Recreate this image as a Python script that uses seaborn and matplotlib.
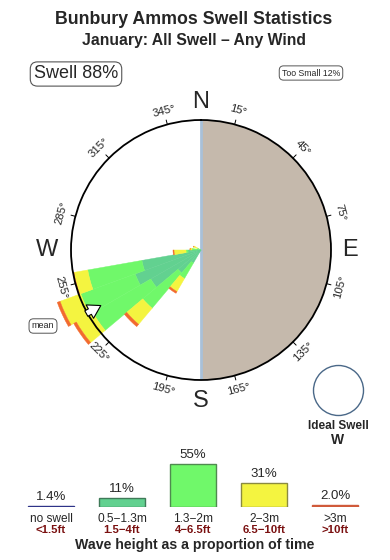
import numpy as np
import pandas as pd
import matplotlib
matplotlib.use("Agg")
import matplotlib.pyplot as plt
from matplotlib.patches import Ellipse
import seaborn as sns

sns.set_style("white")
plt.rcParams['font.family'] = ['Liberation Sans', 'DejaVu Sans']

# ---------------- data ----------------
# rose: direction bins (deg, swell coming from), segment lengths per wave class
directions = [215, 225, 235, 245, 255, 265, 275, 295]
seg_small = [1.5, 3.0, 5.8, 7.0, 6.0, 1.3, 0.4, 0.0]    # 0.5-1.3m
seg_medium = [1.8, 4.6, 6.7, 5.8, 5.5, 0.2, 0.5, 0.4]   # 1.3-2m
seg_large = [1.5, 2.1, 1.9, 2.2, 1.4, 1.2, 0.2, 0.4]    # 2-3m
seg_huge = [0.2, 0.3, 0.3, 0.3, 0.1, 0.1, 0.0, 0.0]     # >3m
circle_scale = 13.0

tick_degrees = [15, 45, 75, 105, 135, 165, 195, 225, 255, 285, 315, 345]
mean_direction = 241

# legend bars
classes = ["no swell", "0.5\u22121.3m", "1.3\u22122m", "2\u22123m", ">3m"]
class_feet = ["<1.5ft", "1.5\u22124ft", "4\u22126.5ft", "6.5\u221210ft", ">10ft"]
class_pct = [1.4, 11, 55, 31, 2.0]
class_pct_labels = ["1.4%", "11%", "55%", "31%", "2.0%"]

# ---------------- style ----------------
C_SMALL = "#62d190"
C_MED = "#70f86a"
C_LARGE = "#f4f440"
C_HUGE = "#f26a2e"
C_NONE = "#2e3388"
C_HUGE_LEG = "#d05a3a"
TAN = "#c5b9ac"
COAST = "#a8c0d8"
DARKRED = "#7a1010"

W, H = 390, 560
fig = plt.figure(figsize=(W / 100, H / 100), dpi=100)
fig.patch.set_facecolor("white")

def fx(px):
    return px / W

def fy(py):
    return 1 - py / H

# titles
fig.text(fx(194), fy(20), "Bunbury Ammos Swell Statistics", ha="center", va="center",
         fontsize=12.8, fontweight="bold")
fig.text(fx(194), fy(41), "January: All Swell \u2013 Any Wind", ha="center", va="center",
         fontsize=11.3, fontweight="bold")
fig.text(fx(76), fy(74), "Swell 88%", ha="center", va="center", fontsize=13,
         bbox=dict(boxstyle="round,pad=0.2,rounding_size=0.4", fc="white", ec="#555555", lw=0.8))
fig.text(fx(311), fy(73), "Too Small 12%", ha="center", va="center", fontsize=6.3,
         bbox=dict(boxstyle="round,pad=0.3,rounding_size=0.5", fc="white", ec="#555555", lw=0.7))

# ---------------- rose ----------------
cx, cy, rp = 201, 250, 130
ax = fig.add_axes([fx(cx - rp), fy(cy + rp), 2 * rp / W, 2 * rp / H], projection="polar")
ax.set_theta_zero_location("N")
ax.set_theta_direction(-1)
R = circle_scale
ax.set_ylim(0, R)
ax.set_xticks([])
ax.set_yticks([])
ax.grid(False)
ax.spines["polar"].set_color("black")
ax.spines["polar"].set_linewidth(1.3)
ax.spines["polar"].set_zorder(5)

# land (east half)
ax.bar(np.pi / 2, R, width=np.pi, bottom=0, color=TAN, edgecolor="none", zorder=1)
ax.plot([0, 0], [0, R], color=COAST, lw=2, zorder=2, solid_capstyle="butt")
ax.plot([np.pi, np.pi], [0, R], color=COAST, lw=2, zorder=2, solid_capstyle="butt")

theta = np.radians(directions)
wid = np.radians(10)
bottom = np.zeros(len(directions))
for seg, col in [(seg_small, C_SMALL), (seg_medium, C_MED), (seg_large, C_LARGE), (seg_huge, C_HUGE)]:
    seg = np.array(seg)
    ax.bar(theta, seg, width=wid, bottom=bottom, color=col, edgecolor=col, linewidth=0.3,
           zorder=3, clip_on=False)
    bottom = bottom + seg

# ticks and labels
for d in tick_degrees:
    t = np.radians(d)
    ax.plot([t, t], [R, R * 1.035], color="black", lw=0.7, clip_on=False, zorder=6)
    rot = (-d) % 180
    if rot > 90:
        rot -= 180
    ax.text(t, R * 1.11, f"{d}\u00b0", rotation=rot, rotation_mode="anchor",
            ha="center", va="center", fontsize=8.2, clip_on=False)

for lab, d, rr in [("N", 0, 1.14), ("E", 90, 1.15), ("S", 180, 1.16), ("W", 270, 1.185)]:
    ax.text(np.radians(d), R * rr, lab, ha="center", va="center", fontsize=17, clip_on=False)

# mean arrow
tm = np.radians(mean_direction)
ax.annotate("", xy=(tm, R * 0.86), xytext=(tm, R * 1.03),
            arrowprops=dict(arrowstyle="simple,head_length=0.9,head_width=1.1,tail_width=0.45",
                            fc="white", ec="black", lw=0.8), annotation_clip=False, zorder=7)
fig.text(fx(43), fy(326), "mean", ha="center", va="center", fontsize=6.5,
         bbox=dict(boxstyle="round,pad=0.3,rounding_size=0.5", fc="white", ec="#555555", lw=0.7))

# ideal swell
fig.add_artist(Ellipse((fx(338.5), fy(390.5)), width=50 / W, height=50 / H,
                       transform=fig.transFigure, fill=False, ec="#4a6888", lw=1.0))
fig.text(fx(338), fy(426), "Ideal Swell", ha="center", va="center", fontsize=8.5, fontweight="bold")
fig.text(fx(338), fy(440), "W", ha="center", va="center", fontsize=10, fontweight="bold")

# ---------------- legend bars ----------------
base = 507
pxper = 0.782
axb = fig.add_axes([fx(15.5), fy(base), 355 / W, 52 / H])
df = pd.DataFrame({"cls": classes, "pct": class_pct})
fills = [C_NONE, C_SMALL, C_MED, C_LARGE, C_HUGE_LEG]
sns.barplot(data=df, x="cls", y="pct", hue="cls", palette=fills, legend=False,
            width=0.634, ax=axb, saturation=1)
edges = [C_NONE, "#3f7a58", "#4f8a4f", "#8a8a40", C_HUGE_LEG]
for p, e in zip(axb.patches, edges):
    p.set_edgecolor(e)
    p.set_linewidth(1.0)
axb.set_xlim(-0.5, 4.5)
axb.set_ylim(0, 52 / pxper)
axb.axis("off")
for i, (v, lab) in enumerate(zip(class_pct, class_pct_labels)):
    axb.text(i, v + 9 / pxper, lab, ha="center", va="center", fontsize=9.5, clip_on=False)
    axb.text(i, -11.5 / pxper, classes[i], ha="center", va="center", fontsize=8.6, clip_on=False)
    axb.text(i, -23 / pxper, class_feet[i], ha="center", va="center", fontsize=8.2,
             color=DARKRED, fontweight="bold", clip_on=False)
fig.text(fx(195), fy(545.5), "Wave height as a proportion of time", ha="center", va="center",
         fontsize=10.2, fontweight="bold")

fig.savefig("out.png", dpi=100, facecolor="white")
